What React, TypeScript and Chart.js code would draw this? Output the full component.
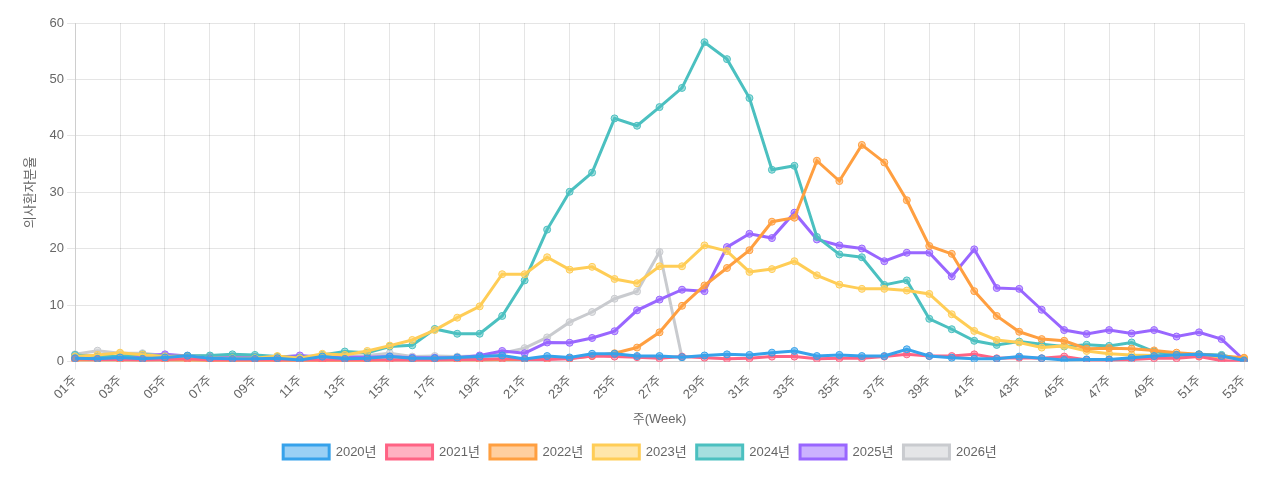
import React, { useEffect, useRef } from "react";
import { Chart, registerables } from "chart.js";

Chart.register(...registerables);

const weeks = [
  "01주", "02주", "03주", "04주", "05주", "06주", "07주", "08주", "09주", "10주",
  "11주", "12주", "13주", "14주", "15주", "16주", "17주", "18주", "19주", "20주",
  "21주", "22주", "23주", "24주", "25주", "26주", "27주", "28주", "29주", "30주",
  "31주", "32주", "33주", "34주", "35주", "36주", "37주", "38주", "39주", "40주",
  "41주", "42주", "43주", "44주", "45주", "46주", "47주", "48주", "49주", "50주",
  "51주", "52주", "53주",
];

const yearLabels = ["2020년", "2021년", "2022년", "2023년", "2024년", "2025년", "2026년"];

const y2020 = [
  0.6, 0.5, 0.75, 0.5, 0.75, 1.07, 0.6, 0.5, 0.5, 0.6,
  0.3, 0.9, 0.5, 0.6, 0.9, 0.6, 0.6, 0.75, 0.9, 1.1,
  0.5, 1.0, 0.75, 1.4, 1.4, 1.0, 1.0, 0.8, 1.1, 1.3,
  1.2, 1.6, 1.9, 1.0, 1.2, 1.0, 1.0, 2.2, 1.0, 0.7,
  0.5, 0.5, 0.9, 0.6, 0.3, 0.4, 0.4, 0.7, 1.0, 1.2,
  1.3, 1.0, 0.2,
];
const y2021 = [
  0.5, 0.4, 0.4, 0.3, 0.4, 0.5, 0.3, 0.3, 0.3, 0.3,
  0.3, 0.3, 0.3, 0.3, 0.3, 0.3, 0.3, 0.4, 0.4, 0.5,
  0.4, 0.4, 0.5, 1.0, 0.9, 0.8, 0.6, 0.9, 0.7, 0.5,
  0.6, 0.9, 0.9, 0.5, 0.6, 0.6, 0.9, 1.3, 1.0, 1.0,
  1.3, 0.6, 0.7, 0.6, 0.9, 0.3, 0.3, 0.4, 0.6, 0.6,
  0.9, 0.2, 0.0,
];
const y2022 = [
  0.3, 0.3, 0.3, 0.3, 0.3, 0.3, 0.2, 0.2, 0.2, 0.2,
  0.2, 0.2, 0.2, 0.2, 0.3, 0.3, 0.3, 0.3, 0.3, 0.4,
  0.4, 0.5, 0.6, 1.0, 1.5, 2.5, 5.2, 9.9, 13.5, 16.6,
  19.75, 24.8, 25.5, 35.6, 32.0, 38.4, 35.3, 28.6, 20.5, 19.1,
  12.5, 8.1, 5.3, 4.0, 3.7, 2.3, 2.4, 2.3, 2.0, 1.6,
  1.3, 1.0, 0.7,
];
const y2023 = [
  0.9, 1.2, 1.6, 1.25, 0.9, 1.0, 0.6, 0.6, 0.6, 1.0,
  0.6, 1.4, 1.2, 1.9, 2.85, 3.85, 5.6, 7.8, 9.8, 15.5,
  15.5, 18.5, 16.3, 16.8, 14.65, 13.9, 16.9, 16.9, 20.6, 19.6,
  15.9, 16.4, 17.8, 15.3, 13.65, 12.9, 12.9, 12.6, 12.0, 8.4,
  5.45, 3.85, 3.4, 2.5, 2.8, 1.9, 1.4, 1.2, 1.1, 1.1,
  1.0, 0.8, 0.6,
];
const y2024 = [
  1.2, 0.9, 0.9, 1.3, 0.9, 1.0, 1.1, 1.3, 1.2, 0.9,
  0.7, 1.2, 1.8, 1.6, 2.7, 2.9, 5.8, 4.95, 4.95, 8.1,
  14.4, 23.4, 30.1, 33.5, 43.1, 41.8, 45.1, 48.5, 56.6, 53.6,
  46.7, 34.0, 34.7, 22.1, 19.0, 18.5, 13.6, 14.4, 7.6, 5.75,
  3.7, 2.97, 3.56, 3.1, 2.7, 3.0, 2.8, 3.4, 1.8, 1.2,
  1.3, 1.2, 0.3,
];
const y2025 = [
  0.8, 0.9, 0.9, 1.0, 1.3, 1.0, 0.8, 0.8, 0.8, 0.8,
  1.1, 0.8, 0.8, 0.8, 0.9, 0.7, 0.7, 0.7, 1.1, 1.9,
  1.5, 3.4, 3.35, 4.2, 5.4, 9.1, 11.0, 12.75, 12.5, 20.3,
  22.65, 21.9, 26.4, 21.65, 20.6, 20.05, 17.8, 19.3, 19.3, 15.1,
  19.9, 13.05, 12.9, 9.2, 5.6, 4.9, 5.6, 5.0, 5.6, 4.45,
  5.2, 4.0, 0.3,
];
const y2026 = [
  1.3, 1.95, 1.5, 1.5, 1.1, 1.1, 1.0, 1.0, 0.9, 0.9,
  0.8, 1.0, 1.0, 1.1, 1.5, 0.9, 1.0, 0.9, 1.0, 1.5,
  2.4, 4.3, 7.0, 8.8, 11.15, 12.45, 19.45, 0.75, null, null,
  null, null, null, null, null, null, null, null, null, null,
  null, null, null, null, null, null, null, null, null, null,
  null, null, null,
];

const seriesValues = [y2020, y2021, y2022, y2023, y2024, y2025, y2026];
const lineColors = [
  "rgb(54, 162, 235)",
  "rgb(255, 99, 132)",
  "rgb(255, 159, 64)",
  "rgb(255, 205, 86)",
  "rgb(75, 192, 192)",
  "rgb(153, 102, 255)",
  "rgb(201, 203, 207)",
];
const fillColors = [
  "rgba(54, 162, 235, 0.5)",
  "rgba(255, 99, 132, 0.5)",
  "rgba(255, 159, 64, 0.5)",
  "rgba(255, 205, 86, 0.5)",
  "rgba(75, 192, 192, 0.5)",
  "rgba(153, 102, 255, 0.5)",
  "rgba(201, 203, 207, 0.5)",
];

export default function App() {
  const canvasRef = useRef<HTMLCanvasElement | null>(null);

  useEffect(() => {
    if (!canvasRef.current) return;
    Chart.defaults.font.family = "Arial, 'Liberation Sans', 'Noto Sans CJK KR', sans-serif";
    Chart.defaults.color = "#666";
    const chart = new Chart(canvasRef.current, {
      type: "line",
      data: {
        labels: weeks,
        datasets: yearLabels.map((label, i) => ({
          label,
          data: seriesValues[i],
          borderColor: lineColors[i],
          backgroundColor: fillColors[i],
          borderWidth: 3,
          pointRadius: 3.5,
          pointBorderWidth: 1,
          pointBackgroundColor: fillColors[i],
          pointBorderColor: lineColors[i],
          tension: 0,
          fill: false,
          spanGaps: false,
        })),
      },
      options: {
        animation: false,
        responsive: true,
        maintainAspectRatio: false,
        layout: { padding: { left: 20, right: 20, top: 15, bottom: 0 } },
        plugins: {
          legend: {
            position: "bottom",
            labels: { boxWidth: 46, boxHeight: 14, font: { size: 13 } },
          },
          tooltip: { enabled: false },
        },
        scales: {
          x: {
            afterFit: (scale: any) => {
              scale.paddingRight = 28;
            },
            ticks: {
              autoSkip: false,
              minRotation: 45,
              maxRotation: 45,
              font: { size: 13 },
              callback: (_v: any, i: number) => (i % 2 === 0 ? weeks[i] : null),
            },
            title: {
              display: true,
              text: "주(Week)",
              font: { size: 13 },
              padding: { top: 6, bottom: 8 },
            },
          },
          y: {
            min: 0,
            max: 60,
            ticks: { stepSize: 10, font: { size: 13 } },
            title: {
              display: true,
              text: "의사환자분율",
              font: { size: 13 },
              padding: { top: -5, bottom: 8 },
            },
          },
        },
      },
    });
    return () => chart.destroy();
  }, []);

  return (
    <div style={{ position: "relative", width: "100%", height: "461px" }}>
      <canvas ref={canvasRef} />
    </div>
  );
}
